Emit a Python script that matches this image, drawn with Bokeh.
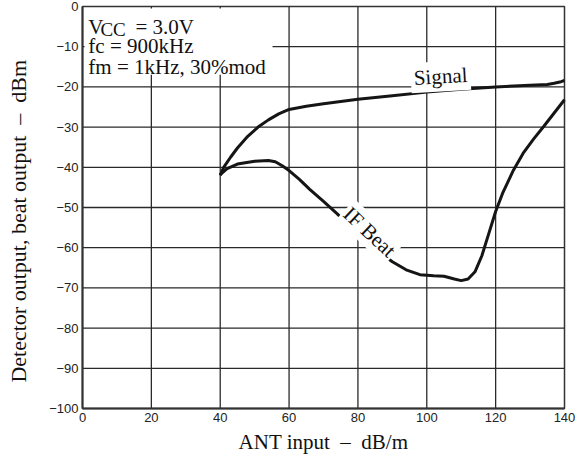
import math
from bokeh.plotting import figure
from bokeh.models import Range1d, FixedTicker, Label, BoxAnnotation
from bokeh.embed import file_html
from bokeh.resources import INLINE

# ---- data ----
signal_x = [40, 41, 43, 45, 48, 51, 54, 57, 60, 65, 70, 80, 90, 100, 110, 120, 130, 135, 137, 139, 140]
signal_y = [-42, -40, -37.5, -35.2, -32.3, -30, -28.2, -26.7, -25.6, -24.8, -24.2, -23.1, -22.2,
            -21.3, -20.6, -20.0, -19.6, -19.4, -19.1, -18.7, -18.4]

beat_x = [40, 42, 45, 50, 54, 56, 58, 60, 63, 66, 70, 74, 78, 82, 86, 90, 94, 98, 102, 105,
          108, 110, 112, 114, 116, 118, 120, 122, 125, 128, 131, 134, 137, 140]
beat_y = [-41.8, -40.3, -39.2, -38.5, -38.3, -38.6, -39.6, -40.8, -43, -45.5, -48.5, -51.6, -55,
          -58, -61, -63.5, -65.5, -66.7, -67, -67.1, -67.8, -68.2, -67.8, -66, -62, -56.5, -51,
          -46.5, -41, -36.5, -33, -29.8, -26.5, -23.2]

x_ticks = [0, 20, 40, 60, 80, 100, 120, 140]
y_ticks = [-100, -90, -80, -70, -60, -50, -40, -30, -20, -10, 0]

SERIF = "Liberation Serif"
SANS = "Liberation Sans"
NB = "\u00a0"

x_lo, x_hi = x_ticks[0], x_ticks[-1]
y_lo, y_hi = y_ticks[0], y_ticks[-1]

p = figure(width=585, height=459, output_backend="svg", toolbar_location=None,
           x_range=Range1d(x_lo, x_hi), y_range=Range1d(y_lo, y_hi),
           min_border_left=82, min_border_right=21, min_border_top=6, min_border_bottom=51)
p.background_fill_color = None
p.border_fill_color = "white"
p.outline_line_color = "#333333"
p.outline_line_width = 1.5

p.xaxis.ticker = FixedTicker(ticks=x_ticks)
p.yaxis.ticker = FixedTicker(ticks=y_ticks)
p.yaxis.major_label_overrides = {v: ("\u2212" + str(abs(v)) if v < 0 else str(v)) for v in y_ticks}

for ax in (p.xaxis[0], p.yaxis[0]):
    ax.axis_line_color = "#333333"
    ax.axis_line_width = 2
    ax.major_tick_line_color = None
    ax.major_tick_in = 0
    ax.major_tick_out = 0
    ax.minor_tick_line_color = None
    ax.major_label_text_font = SANS
    ax.major_label_text_font_size = "13px"
    ax.major_label_text_color = "#222222"
    ax.major_label_standoff = 4
    ax.axis_label_text_font = SERIF
    ax.axis_label_text_font_style = "normal"
    ax.axis_label_text_color = "#111111"

p.xaxis.axis_label = "ANT input" + NB + NB + "\u2013" + NB + NB + "dB/m"
p.yaxis.axis_label = ("Detector output, beat output" + NB + NB + "\u2013" + NB + NB + "dBm"
                      + NB * 5)
p.xaxis.axis_label_text_font_size = "21px"
p.yaxis.axis_label_text_font_size = "22px"
p.xaxis.axis_label_standoff = 5
p.yaxis.axis_label_standoff = 15

# grid: one broken polyline through all tick positions (vertical and horizontal)
p.xgrid.visible = False
p.ygrid.visible = False
grid_xs, grid_ys = [], []
for t in x_ticks[1:-1]:
    grid_xs += [t, t, math.nan]
    grid_ys += [y_lo, y_hi, math.nan]
for t in y_ticks[1:-1]:
    grid_xs += [x_lo, x_hi, math.nan]
    grid_ys += [t, t, math.nan]
p.line(grid_xs, grid_ys, line_color="#2a2a2a", line_width=1.3, level="glyph")

p.line(signal_x, signal_y, line_color="#151515", line_width=3, level="guide")
p.line(beat_x, beat_y, line_color="#151515", line_width=3, level="guide")

# white box behind the conditions text
p.add_layout(BoxAnnotation(left=0.6, right=55.2, top=-0.5, bottom=-17, fill_color="white",
                           fill_alpha=1, line_color=None, level="annotation"))

def lab(x, y, text, size="21px", **kw):
    p.add_layout(Label(x=x, y=y, text=text, text_font=SERIF, text_font_size=size,
                       text_color="#111111", **kw))

lab(1.7, -5.0, "V", text_baseline="alphabetic")
lab(5.2, -5.8, "CC", size="19px", text_baseline="alphabetic")
lab(15.4, -5.0, "= 3.0V", text_baseline="alphabetic")
lab(1.7, -9.9, "fc = 900kHz", text_baseline="alphabetic")
lab(1.7, -15.1, "fm = 1kHz, 30%mod", text_baseline="alphabetic")

lab(104, -17.4, "Signal", text_align="center", text_baseline="middle", angle=0.06,
    background_fill_color="white", background_fill_alpha=1, padding=3)
lab(83.4, -56.1, "IF Beat", text_align="center", text_baseline="middle", angle=-0.75,
    background_fill_color="white", background_fill_alpha=1, padding=2)

open("out.html", "w").write(file_html(p, INLINE))
